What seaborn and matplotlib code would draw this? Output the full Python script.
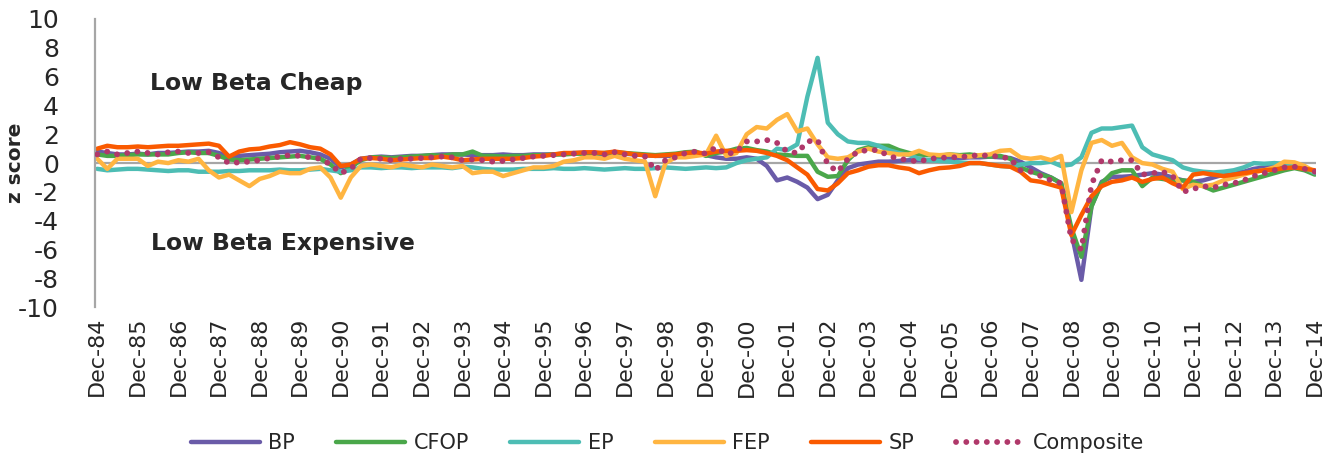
import numpy as np
import pandas as pd
import matplotlib
matplotlib.use("Agg")
import matplotlib.pyplot as plt
import seaborn as sns

# quarterly observations, Dec-84 .. Dec-14 (one row per year after the first value)
dates = pd.date_range("1984-12-31", "2014-12-31", freq="QE-DEC")

bp = [0.8,
      0.7, 0.6, 0.6, 0.65, 0.6, 0.7, 0.7, 0.75, 0.8, 0.8, 0.85, 0.7,
      0.4, 0.5, 0.55, 0.6, 0.65, 0.75, 0.8, 0.85, 0.75, 0.6, 0.3, -0.3,
      -0.1, 0.3, 0.4, 0.45, 0.4, 0.45, 0.5, 0.5, 0.55, 0.6, 0.6, 0.6,
      0.55, 0.55, 0.55, 0.6, 0.55, 0.55, 0.6, 0.6, 0.6, 0.65, 0.7, 0.7,
      0.6, 0.6, 0.7, 0.65, 0.6, 0.55, 0.5, 0.5, 0.5, 0.6, 0.65, 0.55,
      0.4, 0.3, 0.3, 0.4, 0.3, -0.2, -1.2, -1.0, -1.3, -1.7, -2.5, -2.2,
      -1.2, -0.35, -0.1, 0.0, 0.1, 0.1, 0.15, 0.2, 0.2, 0.2, 0.25, 0.3,
      0.35, 0.4, 0.4, 0.45, 0.4, 0.35, 0.1, -0.3, -0.7, -1.0, -1.4, -4.8,
      -8.1, -3.0, -1.3, -0.95, -0.95, -0.9, -0.8, -0.7, -0.8, -1.0, -1.2, -1.3,
      -1.2, -1.0, -0.8, -0.7, -0.6, -0.4, -0.3, -0.25, -0.25, -0.2, -0.3, -0.7]

cfop = [0.6,
        0.5, 0.5, 0.55, 0.6, 0.6, 0.6, 0.6, 0.7, 0.75, 0.7, 0.7, 0.5,
        0.25, 0.2, 0.25, 0.3, 0.35, 0.4, 0.45, 0.5, 0.4, 0.3, -0.1, -0.7,
        -0.3, 0.2, 0.4, 0.4, 0.35, 0.4, 0.45, 0.5, 0.55, 0.5, 0.6, 0.6,
        0.8, 0.5, 0.5, 0.45, 0.5, 0.5, 0.55, 0.55, 0.6, 0.6, 0.65, 0.65,
        0.65, 0.7, 0.75, 0.7, 0.65, 0.6, 0.55, 0.6, 0.65, 0.75, 0.8, 0.5,
        0.7, 0.8, 1.0, 1.05, 0.9, 0.8, 0.6, 0.55, 0.5, 0.5, -0.6, -0.95,
        -0.9, 0.2, 0.9, 1.1, 1.2, 1.2, 0.9, 0.7, 0.6, 0.55, 0.5, 0.6,
        0.55, 0.6, 0.5, 0.45, 0.5, 0.3, -0.3, -0.6, -0.8, -1.0, -1.4, -4.5,
        -6.5, -3.0, -1.4, -0.7, -0.5, -0.5, -1.6, -1.0, -1.1, -1.2, -1.2, -1.3,
        -1.6, -1.9, -1.7, -1.5, -1.3, -1.1, -0.9, -0.7, -0.5, -0.35, -0.5, -0.8]

ep = [-0.4,
      -0.5, -0.45, -0.4, -0.4, -0.45, -0.5, -0.55, -0.5, -0.5, -0.6, -0.6, -0.6,
      -0.55, -0.55, -0.5, -0.5, -0.5, -0.45, -0.5, -0.5, -0.45, -0.4, -0.5, -0.6,
      -0.5, -0.3, -0.3, -0.35, -0.3, -0.3, -0.35, -0.3, -0.3, -0.3, -0.35, -0.25,
      -0.3, -0.4, -0.45, -0.45, -0.45, -0.4, -0.4, -0.4, -0.35, -0.4, -0.4, -0.35,
      -0.4, -0.45, -0.4, -0.35, -0.4, -0.4, -0.35, -0.3, -0.35, -0.4, -0.35, -0.3,
      -0.35, -0.3, 0.0, 0.2, 0.3, 0.4, 1.0, 0.9, 1.3, 4.6, 7.3, 2.8,
      2.0, 1.5, 1.4, 1.4, 1.2, 0.9, 0.7, 0.55, 0.3, 0.2, 0.15, 0.1,
      0.05, 0.0, 0.0, -0.1, -0.2, -0.25, -0.1, 0.0, 0.0, 0.1, -0.2, -0.1,
      0.4, 2.1, 2.4, 2.4, 2.5, 2.6, 1.1, 0.6, 0.4, 0.2, -0.3, -0.5,
      -0.6, -0.65, -0.6, -0.5, -0.3, 0.0, -0.05, 0.0, -0.05, -0.1, -0.3, -0.7]

fep = [0.3,
       -0.4, 0.3, 0.3, 0.3, -0.2, 0.1, 0.0, 0.2, 0.1, 0.3, -0.5, -1.0,
       -0.8, -1.2, -1.6, -1.1, -0.9, -0.6, -0.7, -0.7, -0.4, -0.3, -1.0, -2.4,
       -1.0, -0.2, -0.1, -0.2, -0.3, -0.1, -0.2, -0.3, -0.1, -0.2, -0.3, -0.2,
       -0.7, -0.6, -0.6, -0.9, -0.7, -0.5, -0.3, -0.3, -0.2, 0.1, 0.2, 0.4,
       0.4, 0.3, 0.5, 0.3, 0.2, 0.1, -2.3, 0.0, 0.4, 0.4, 0.5, 0.6,
       1.9, 0.5, 0.7, 2.0, 2.5, 2.4, 3.0, 3.4, 2.2, 2.4, 1.3, 0.4,
       0.3, 0.4, 0.8, 1.0, 0.8, 0.7, 0.6, 0.6, 0.85, 0.6, 0.55, 0.6,
       0.5, 0.45, 0.55, 0.6, 0.85, 0.9, 0.4, 0.3, 0.4, 0.2, 0.5, -3.4,
       -0.5, 1.4, 1.6, 1.2, 1.4, 0.4, 0.0, -0.1, -0.4, -0.6, -1.8, -1.5,
       -1.6, -1.5, -1.2, -1.0, -0.8, -0.6, -0.5, -0.3, 0.1, 0.05, -0.2, -0.6]

sp = [1.0,
      1.2, 1.1, 1.1, 1.15, 1.1, 1.15, 1.2, 1.2, 1.25, 1.3, 1.35, 1.2,
      0.45, 0.8, 0.95, 1.0, 1.15, 1.25, 1.45, 1.3, 1.1, 1.0, 0.6, -0.2,
      -0.1, 0.3, 0.35, 0.3, 0.2, 0.25, 0.3, 0.35, 0.35, 0.45, 0.35, 0.2,
      0.25, 0.3, 0.3, 0.3, 0.3, 0.35, 0.45, 0.5, 0.6, 0.7, 0.7, 0.75,
      0.75, 0.7, 0.8, 0.7, 0.6, 0.55, 0.5, 0.55, 0.6, 0.7, 0.75, 0.65,
      0.8, 0.85, 0.85, 0.9, 0.85, 0.7, 0.5, 0.2, -0.3, -0.8, -1.8, -1.9,
      -1.4, -0.7, -0.5, -0.25, -0.15, -0.15, -0.3, -0.4, -0.7, -0.5, -0.35, -0.3,
      -0.2, 0.0, 0.0, -0.1, -0.2, -0.25, -0.6, -1.2, -1.3, -1.5, -1.7, -5.0,
      -3.6, -2.3, -1.6, -1.3, -1.2, -1.0, -1.3, -1.1, -1.0, -1.4, -1.7, -0.8,
      -0.7, -0.8, -0.9, -0.8, -0.7, -0.6, -0.5, -0.45, -0.35, -0.3, -0.4, -0.5]

composite = [0.6,
             0.8, 0.6, 0.7, 0.8, 0.7, 0.6, 0.75, 0.8, 0.7, 0.7, 0.75, 0.4,
             0.0, 0.05, 0.1, 0.2, 0.35, 0.45, 0.55, 0.5, 0.4, 0.3, -0.1, -0.7,
             -0.4, 0.3, 0.35, 0.3, 0.2, 0.3, 0.3, 0.35, 0.4, 0.45, 0.4, 0.2,
             0.25, 0.2, 0.1, 0.15, 0.25, 0.35, 0.45, 0.5, 0.55, 0.6, 0.65, 0.7,
             0.7, 0.6, 0.75, 0.6, 0.5, 0.45, -0.5, 0.2, 0.4, 0.7, 0.8, 0.65,
             1.1, 0.6, 0.8, 1.5, 1.5, 1.6, 1.4, 0.8, 0.7, 1.5, 1.6, -0.1,
             -0.6, 0.3, 0.8, 0.9, 0.9, 0.5, 0.3, 0.2, 0.1, 0.3, 0.35, 0.4,
             0.4, 0.5, 0.55, 0.5, 0.45, 0.3, -0.5, -0.6, -0.9, -1.2, -1.4, -5.3,
             -6.0, -1.5, 0.2, 0.1, 0.2, 0.2, -0.8, -0.7, -0.6, -0.9, -2.0, -1.8,
             -1.6, -1.7, -1.5, -1.4, -1.2, -0.9, -0.7, -0.5, -0.3, -0.25, -0.4, -0.6]

series = ["BP", "CFOP", "EP", "FEP", "SP"]
values = [bp, cfop, ep, fep, sp]
colors = ["#6a5ba8", "#4aa74a", "#4dbdb4", "#ffb541", "#fa5a00"]
comp_color = "#b0386a"

sns.set_style("white")
plt.rcParams["font.family"] = ["DejaVu Sans"]
plt.rcParams["axes.unicode_minus"] = False

fig = plt.figure(figsize=(13.43, 4.62), dpi=100)
ax = fig.add_axes([0.0707, 0.335, 0.909, 0.624])

ax.axhline(0, color="#a6a6a6", lw=1.6, zorder=1)

for name, vals, col in zip(series, values, colors):
    sns.lineplot(x=dates, y=vals, ax=ax, color=col, lw=3.2,
                 label=name, zorder=2)

sns.lineplot(x=dates, y=composite, ax=ax, color=comp_color, lw=4.2,
             linestyle=(0, (0.01, 1.75)), dash_capstyle="round",
             label="Composite", zorder=3)

ax.set_ylim(-10, 10)
ax.set_yticks(np.arange(-10, 11, 2))
ax.set_xlim(pd.Timestamp("1984-12-10"), pd.Timestamp("2015-01-08"))

tick_dates = dates[::4]
ax.set_xticks(tick_dates)
ax.set_xticklabels([d.strftime("%b-%y") for d in tick_dates], rotation=90)
ax.tick_params(axis="x", labelsize=16, length=0, pad=7)
ax.tick_params(axis="y", labelsize=18, length=0, pad=26)

for side in ["top", "right", "bottom"]:
    ax.spines[side].set_visible(False)
ax.spines["left"].set_color("#a6a6a6")
ax.spines["left"].set_linewidth(1.6)

ax.set_xlabel("")
ax.set_ylabel("z score", fontsize=14.5, fontweight="bold")
ax.yaxis.set_label_coords(-0.057, 0.5)

ax.text(pd.Timestamp("1986-04-15"), 5.55, "Low Beta Cheap", fontsize=16.9,
        fontweight="bold", va="center", ha="left")
ax.text(pd.Timestamp("1986-05-01"), -5.55, "Low Beta Expensive", fontsize=16.9,
        fontweight="bold", va="center", ha="left")

ax.get_legend().remove()
handles, labels = ax.get_legend_handles_labels()
fig.legend(handles, labels, loc="center", bbox_to_anchor=(0.497, 0.041),
           ncol=6, frameon=False, fontsize=15, handlelength=3.3,
           handletextpad=0.4, columnspacing=2.0)

fig.savefig("out.png", dpi=100)
plt.close(fig)
